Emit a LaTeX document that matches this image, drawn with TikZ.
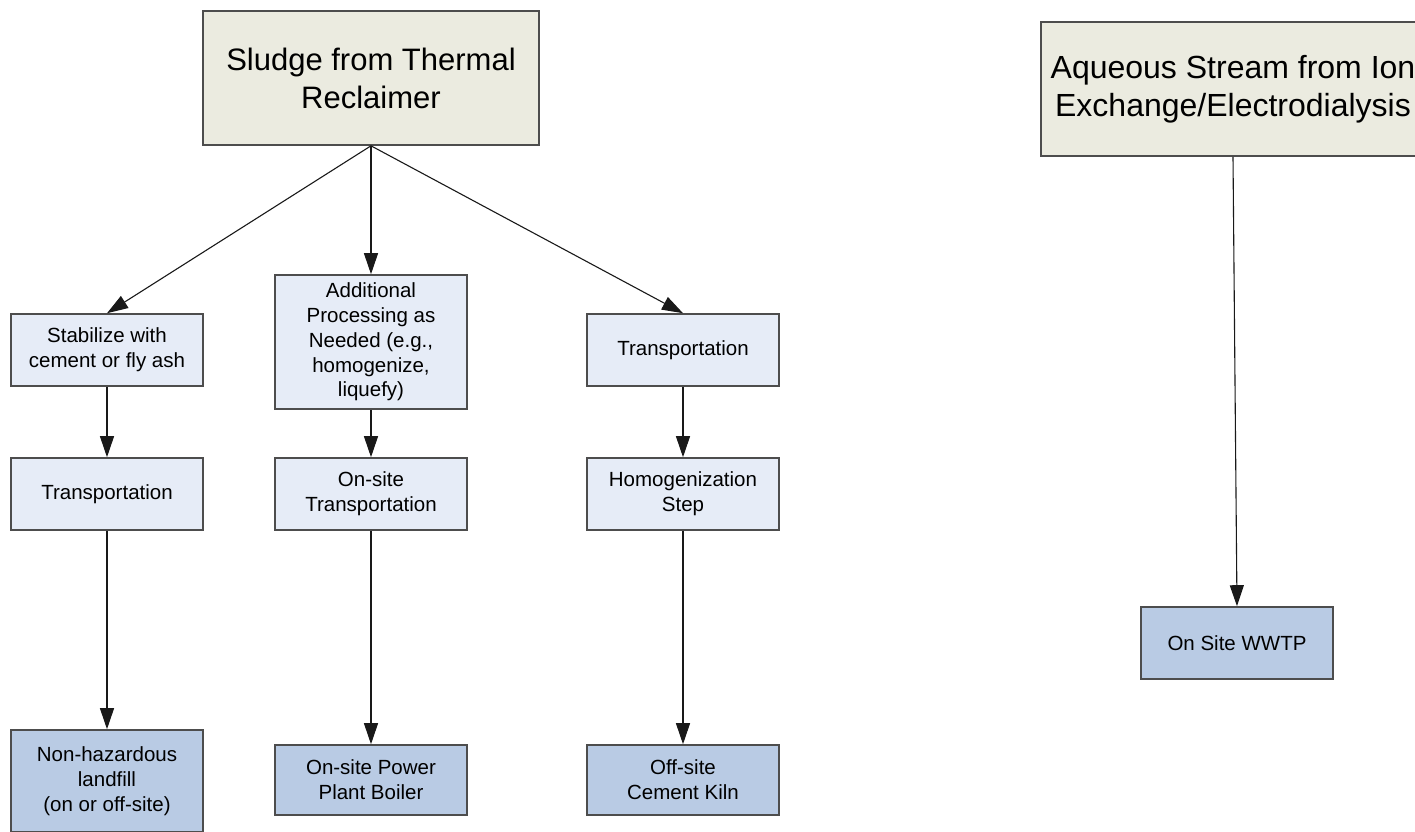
\documentclass[tikz,border=0pt]{standalone}
\usepackage{fontspec}
\setmainfont{Liberation Sans}
\usetikzlibrary{arrows.meta}
\definecolor{srcfill}{HTML}{EBEBE0}
\definecolor{stepfill}{HTML}{E6ECF7}
\definecolor{endfill}{HTML}{B9CBE4}
\definecolor{boxline}{HTML}{4D4D4D}

\begin{document}
\begin{tikzpicture}[
    x=0.5pt,
    y=-0.5pt,
    source/.style={rectangle, draw=boxline, line width=0.8pt, fill=srcfill, inner sep=0pt, minimum height=67pt, align=center, font=\fontsize{15.5}{19}\selectfont},
    stepbox/.style={rectangle, draw=boxline, line width=0.8pt, fill=stepfill, inner sep=0pt, minimum width=96pt, minimum height=36pt, align=center, font=\fontsize{10.25}{12.4}\selectfont},
    endbox/.style={stepbox, fill=endfill},
    flow/.style={-{Triangle[length=10.5pt,width=7pt]}, line width=0.55pt, draw=black!90}
  ]
    \useasboundingbox (0,0) rectangle (1415,831);

    % sources
    \node[source, minimum width=168pt] (sludge) at (371,78) {Sludge from Thermal\\Reclaimer};
    \node[source, minimum width=192pt, font=\fontsize{16}{19}\selectfont] (aqueous) at (1233,89) {Aqueous Stream from Ion\\Exchange/Electrodialysis};

    % left branch
    \node[stepbox] (stabilize) at (107,350) {Stabilize with\\cement or fly ash};
    \node[stepbox] (transleft) at (107,494) {Transportation};
    \node[endbox, minimum height=51pt] (landfill) at (107,781) {Non-hazardous\\landfill\\(on or off-site)};

    % middle branch
    \node[stepbox, minimum height=67pt] (addproc) at (371,342) {Additional\\Processing as\\Needed (e.g.,\\homogenize,\\liquefy)};
    \node[stepbox] (onsitetrans) at (371,494) {On-site\\Transportation};
    \node[endbox, minimum height=35pt] (boiler) at (371,780) {On-site Power\\Plant Boiler};

    % right branch
    \node[stepbox] (transright) at (683,350) {Transportation};
    \node[stepbox] (homog) at (683,494) {Homogenization\\Step};
    \node[endbox, minimum height=35pt] (kiln) at (683,780) {Off-site\\Cement Kiln};

    % aqueous stream
    \node[endbox] (wwtp) at (1237,643) {On Site WWTP};

    \draw[flow] (sludge.south) -- (stabilize.north);
    \draw[flow] (sludge.south) -- (addproc.north);
    \draw[flow] (sludge.south) -- (transright.north);
    \draw[flow] (stabilize) -- (transleft);
    \draw[flow] (transleft) -- (landfill);
    \draw[flow] (addproc) -- (onsitetrans);
    \draw[flow] (onsitetrans) -- (boiler);
    \draw[flow] (transright) -- (homog);
    \draw[flow] (homog) -- (kiln);
    \draw[flow] (aqueous.south) -- (wwtp.north);
  \end{tikzpicture}
\end{document}
